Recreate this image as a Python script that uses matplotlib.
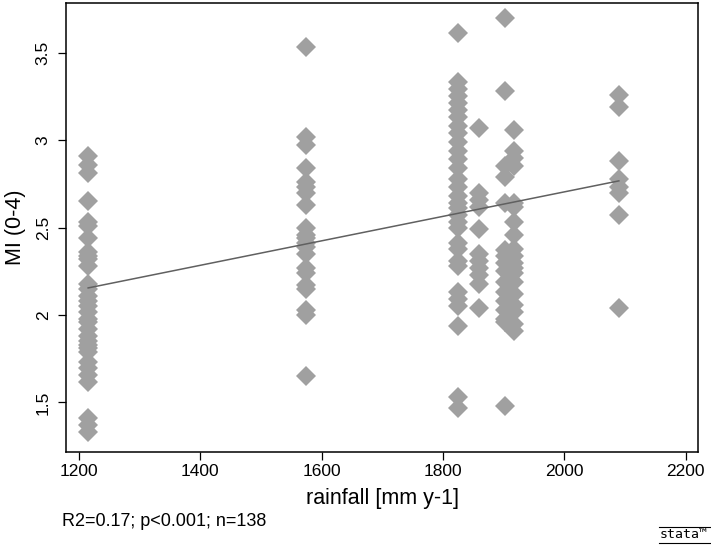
import numpy as np
import matplotlib
matplotlib.use("Agg")
import matplotlib.pyplot as plt
from matplotlib.lines import Line2D

plt.rcParams['font.family'] = ['Liberation Sans', 'DejaVu Sans']

# rainfall level of each site group [mm y-1]
rain_sites = [1215, 1575, 1825, 1860, 1903, 1917, 2090]

# MI (0-4) values observed at each rainfall level
mi_1215 = [2.91, 2.86, 2.81, 2.65, 2.53, 2.51, 2.44, 2.36, 2.34, 2.32, 2.28,
           2.18, 2.15, 2.11, 2.08, 2.05, 2.02, 1.98, 1.96, 1.92, 1.88, 1.85,
           1.83, 1.81, 1.79, 1.73, 1.70, 1.66, 1.62, 1.41, 1.37, 1.33]
mi_1575 = [3.53, 3.02, 2.97, 2.84, 2.76, 2.73, 2.70, 2.63, 2.50, 2.46, 2.44,
           2.41, 2.39, 2.35, 2.27, 2.24, 2.17, 2.15, 2.03, 2.00, 1.65]
mi_1825 = [3.61, 3.33, 3.29, 3.25, 3.21, 3.17, 3.13, 3.08, 3.04, 2.99, 2.94,
           2.89, 2.84, 2.78, 2.73, 2.68, 2.64, 2.61, 2.57, 2.53, 2.50, 2.41,
           2.38, 2.31, 2.28, 2.13, 2.09, 2.05, 1.94, 1.53, 1.47]
mi_1860 = [3.07, 2.70, 2.66, 2.62, 2.49, 2.35, 2.31, 2.27, 2.23, 2.18, 2.04]
mi_1903 = [3.70, 3.28, 2.85, 2.79, 2.64, 2.37, 2.34, 2.30, 2.25, 2.19, 2.13,
           2.08, 2.03, 1.98, 1.96, 1.48]
mi_1917 = [3.06, 2.94, 2.90, 2.85, 2.64, 2.62, 2.53, 2.46, 2.38, 2.34, 2.30,
           2.27, 2.24, 2.19, 2.12, 2.06, 2.02, 1.95, 1.91]
mi_2090 = [3.26, 3.19, 2.88, 2.78, 2.73, 2.70, 2.57, 2.04]

mi_groups = [mi_1215, mi_1575, mi_1825, mi_1860, mi_1903, mi_1917, mi_2090]

# fitted regression line, end points
fit_rain = [1215, 2090]
fit_mi = [2.155, 2.767]

x_ticks = [1200, 1400, 1600, 1800, 2000, 2200]
y_ticks = [1.5, 2, 2.5, 3, 3.5]
y_tick_labels = ["1.5", "2", "2.5", "3", "3.5"]

x_label = "rainfall [mm y-1]"
y_label = "MI (0-4)"
note = "R2=0.17; p<0.001; n=138"

rain = np.concatenate([[r] * len(g) for r, g in zip(rain_sites, mi_groups)])
mi = np.concatenate(mi_groups)

W, H = 711, 550
fig = plt.figure(figsize=(W / 100, H / 100), dpi=100)
ax = fig.add_axes([66 / W, 1 - 452 / H, (698 - 66) / W, (452 - 3) / H])

ax.plot(rain, mi, linestyle='none', marker='D', markersize=9.8,
        markerfacecolor='#a0a0a0', markeredgewidth=0, zorder=2)

ax.plot(fit_rain, fit_mi, color='#606060', linewidth=1.1, zorder=3)

ax.set_xlim(1178.5, 2220.5)
ax.set_ylim(1.217, 3.784)
ax.set_xticks(x_ticks)
ax.set_xticklabels([str(t) for t in x_ticks])
ax.set_yticks(y_ticks)
ax.set_yticklabels(y_tick_labels, rotation=90, va='center')

for s in ax.spines.values():
    s.set_linewidth(1.1)
    s.set_color('black')
ax.tick_params(axis='both', direction='out', length=6, width=0.9,
               labelsize=12.5, colors='black')
ax.tick_params(axis='x', pad=3)
ax.tick_params(axis='y', pad=5)

ax.set_xlabel(x_label, fontsize=15.5, labelpad=6)
ax.set_ylabel(y_label, fontsize=15.5, labelpad=7)

fig.text(62 / W, 1 - 522 / H, note, fontsize=13, ha='left', va='center')

# stata logo
fig.text(684 / W, 1 - 535 / H, "stata\u2122", fontsize=9.5, ha='center',
         va='center', family='DejaVu Sans Mono')
fig.add_artist(Line2D([659 / W, 710 / W], [1 - 527 / H, 1 - 527 / H],
                      color='black', linewidth=0.8, transform=fig.transFigure))
fig.add_artist(Line2D([659 / W, 710 / W], [1 - 543 / H, 1 - 543 / H],
                      color='black', linewidth=0.8, transform=fig.transFigure))

fig.savefig("out.png", dpi=100)
